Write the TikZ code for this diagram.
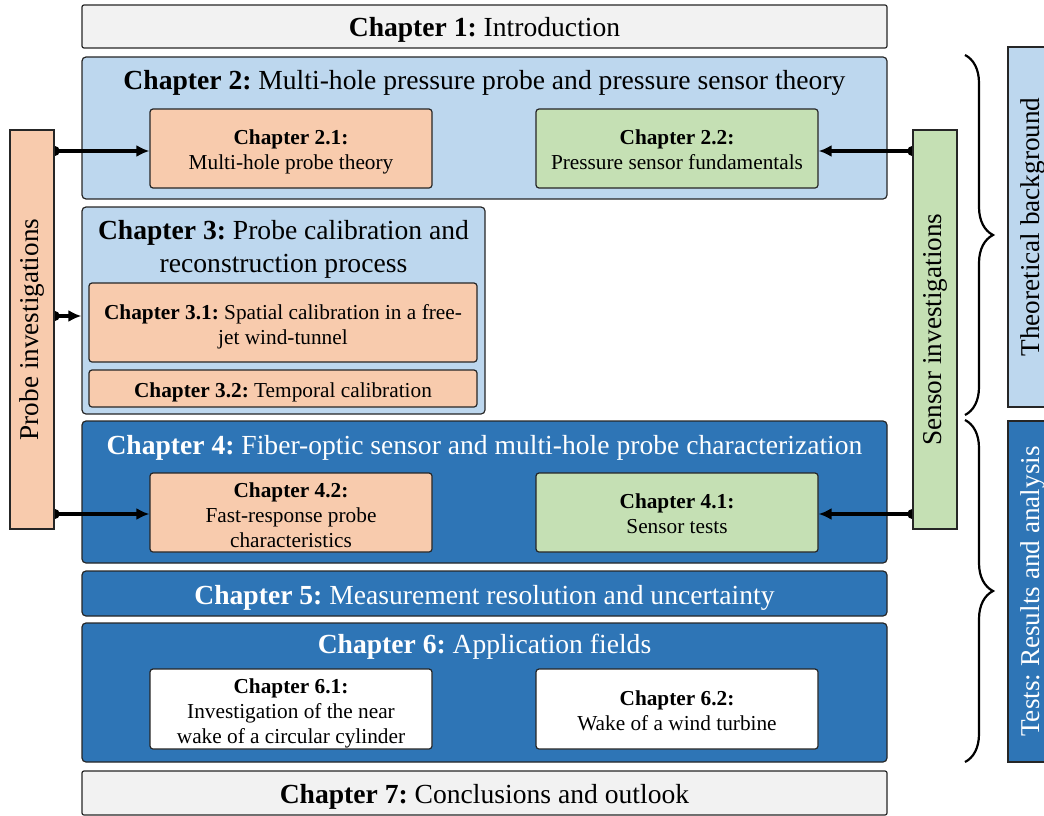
\documentclass[tikz,border=0pt]{standalone}
\usepackage{fontspec}
\setmainfont{Liberation Serif}
\frenchspacing
\usetikzlibrary{arrows.meta,decorations.pathreplacing}

\definecolor{chgray}{HTML}{F2F2F2}
\definecolor{chlight}{HTML}{BDD7EE}
\definecolor{chorange}{HTML}{F8CBAD}
\definecolor{chgreen}{HTML}{C5E0B4}
\definecolor{chdark}{HTML}{2E75B6}

\pgfdeclarelayer{front}
\pgfsetlayers{main,front}

\tikzset{
  box/.style={draw=black!85, line width=1.2pt, rounded corners=4pt, inner sep=0pt},
  subbox/.style={box, rounded corners=3pt, minimum width=282, minimum height=79},
  bigtext/.style={font=\fontsize{27.6}{33}\selectfont, inner sep=0pt, align=center},
  smalltext/.style={font=\fontsize{21.3}{25}\selectfont, inner sep=0pt, align=center},
  sidebar/.style={draw=black!85, line width=1.2pt, inner sep=0pt,
    rotate=90, font=\fontsize{27.2}{33}\selectfont},
  conn/.style={line width=3.2pt, {Circle[length=10pt]}-{Latex[length=13pt,width=12pt]}},
  curly/.style={line width=2.2pt, decorate,
    decoration={brace, amplitude=28pt}},
}

\begin{document}
\begin{tikzpicture}[x=1pt, y=-1pt]
\clip (0,0) rectangle (1044,816);
\useasboundingbox (0,0) rectangle (1044,816);

% chapter 1
\node[box, fill=chgray, rounded corners=2pt, minimum width=805, minimum height=43]
  (c1) at (484.5,26.5) {};
\node[bigtext] (l1) at ([yshift=-3.5pt]c1.center) {\textbf{Chapter 1:} Introduction};

% chapter 2
\node[box, fill=chlight, minimum width=805, minimum height=142] (c2) at (484.5,128) {};
\node[bigtext] (t2) at (484.5,83) {\textbf{Chapter 2:} Multi-hole pressure probe and pressure sensor theory};
\node[subbox, fill=chorange] (c21) at (291,148.5) {};
\node[smalltext] (l21) at ([yshift=-3pt]c21.center) {\textbf{Chapter 2.1:}\\Multi-hole probe theory};
\node[subbox, fill=chgreen] (c22) at (677,148.5) {};
\node[smalltext] (l22) at ([yshift=-1.5pt]c22.center) {\textbf{Chapter 2.2:}\\Pressure sensor fundamentals};

% chapter 3
\node[box, fill=chlight, minimum width=403, minimum height=207] (c3) at (283.5,310.5) {};
\node[bigtext] (t3) at (283.5,249.5) {\textbf{Chapter 3:} Probe calibration and\\reconstruction process};
\node[subbox, fill=chorange, minimum width=388] (c31) at (283,322.5) {};
\node[smalltext] (l31) at ([yshift=-4pt]c31.center) {\textbf{Chapter 3.1:} Spatial calibration in a free-\\jet wind-tunnel};
\node[subbox, fill=chorange, minimum width=388, minimum height=37] (c32) at (283,388.5) {};
\node[smalltext] (l32) at ([yshift=-4pt]c32.center) {\textbf{Chapter 3.2:} Temporal calibration};

% chapter 4
\node[box, fill=chdark, minimum width=805, minimum height=142] (c4) at (484.5,492) {};
\node[bigtext, text=white] (t4) at (484.5,448) {\textbf{Chapter 4:} Fiber-optic sensor and multi-hole probe characterization};
\node[subbox, fill=chorange] (c42) at (291,512.5) {};
\node[smalltext] (l42) at ([yshift=-2.5pt]c42.center) {\textbf{Chapter 4.2:}\\Fast-response probe\\characteristics};
\node[subbox, fill=chgreen] (c41) at (677,512.5) {};
\node[smalltext] (l41) at ([yshift=-1pt]c41.center) {\textbf{Chapter 4.1:}\\Sensor tests};

% chapter 5
\node[box, fill=chdark, minimum width=805, minimum height=45] (c5) at (484.5,593.5) {};
\node[bigtext, text=white] (l5) at ([yshift=-4.5pt]c5.center) {\textbf{Chapter 5:} Measurement resolution and uncertainty};

% chapter 6
\node[box, fill=chdark, minimum width=805, minimum height=139] (c6) at (484.5,692.5) {};
\node[bigtext, text=white] (t6) at (484.5,647) {\textbf{Chapter 6:} Application fields};
\node[subbox, fill=white, minimum height=80] (c61) at (291,709) {};
\node[smalltext] (l61) at ([yshift=-4.5pt]c61.center) {\textbf{Chapter 6.1:}\\Investigation of the near\\wake of a circular cylinder};
\node[subbox, fill=white, minimum height=80] (c62) at (677,709) {};
\node[smalltext] (l62) at ([yshift=-2pt]c62.center) {\textbf{Chapter 6.2:}\\Wake of a wind turbine};

% chapter 7
\node[box, fill=chgray, rounded corners=2pt, minimum width=805, minimum height=44] (c7) at (484.5,793) {};
\node[bigtext] (l7) at ([yshift=-4pt]c7.center) {\textbf{Chapter 7:} Conclusions and outlook};

% vertical side bars (kept in front so the connector dots sit half under them)
\begin{pgfonlayer}{front}
\node[sidebar, fill=chorange, minimum width=399, minimum height=44]
  (probe) at (32,329.5) {Probe investigations};
\node[sidebar, fill=chgreen, minimum width=399, minimum height=44]
  (sensor) at (935,329.5) {Sensor investigations};
\node[sidebar, fill=chlight, minimum width=360, minimum height=50]
  (theory) at (1033,227) {Theoretical background};
\node[sidebar, fill=chdark, text=white, minimum width=341, minimum height=50]
  (tests) at (1033,591.5) {Tests: Results and analysis};
\end{pgfonlayer}

% connectors
\coordinate (a21) at ([yshift=-2.5pt]c21.west);
\coordinate (a3)  at ([yshift=-5.5pt]c3.west);
\coordinate (a42) at ([yshift=-1.5pt]c42.west);
\coordinate (a22) at ([yshift=-2.5pt]c22.east);
\coordinate (a41) at ([yshift=-1.5pt]c41.east);
\coordinate (s21) at (probe.south |- a21);
\coordinate (s3)  at (probe.south |- a3);
\coordinate (s42) at (probe.south |- a42);
\coordinate (s22) at (sensor.north |- a22);
\coordinate (s41) at (sensor.north |- a41);
\draw[conn] ([xshift=-5pt]s21) -- (a21);
\draw[conn] ([xshift=-5pt]s3) -- (a3);
\draw[conn] ([xshift=-5pt]s42) -- (a42);
\draw[conn] ([xshift=5pt]s22) -- (a22);
\draw[conn] ([xshift=5pt]s41) -- (a41);

% braces
\coordinate (b1s) at (965,55);
\coordinate (b1e) at (965,415);
\coordinate (b2s) at (965,420);
\coordinate (b2e) at (965,762);
\draw[curly] (b1s) -- (b1e);
\draw[curly] (b2s) -- (b2e);
\end{tikzpicture}
\end{document}
